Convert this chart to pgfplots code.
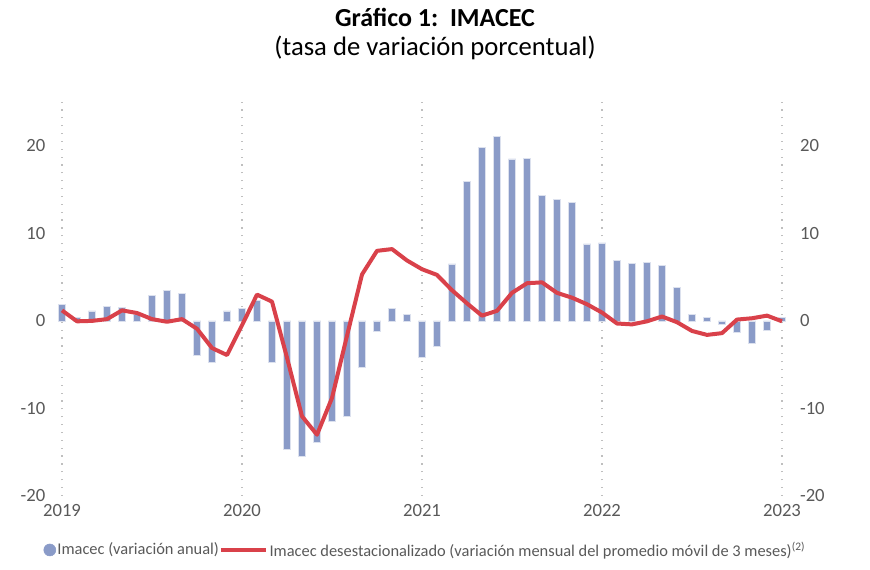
\documentclass[border=0pt]{standalone}
\usepackage{fontspec}
\setmainfont{Carlito}
\usepackage{pgfplots}
\pgfplotsset{compat=1.18}
\definecolor{barcol}{HTML}{8A9BC8}
\definecolor{linecol}{HTML}{D9414A}
\definecolor{txt}{HTML}{595959}
\definecolor{gridc}{HTML}{BFBFBF}
\begin{document}
\begin{tikzpicture}
\path[use as bounding box] (0,0) rectangle (652.5pt,427.5pt);
\node[font=\bfseries\fontsize{19.5}{22}\selectfont, text=black] at (326.25pt,414.5pt) {Gráfico 1:\ \ IMACEC};
\node[font=\fontsize{20}{23}\selectfont, text=black] at (326.25pt,391.5pt) {(tasa de variación porcentual)};
\begin{axis}[
  at={(46.5pt,55.5pt)}, anchor=south west,
  scale only axis, width=540pt, height=295.5pt,
  xmin=0, xmax=48, ymin=-20, ymax=25,
  axis line style={draw=none},
  clip=false,
  xtick={0,12,24,36,48},
  xticklabels={2019,2020,2021,2022,2023},
  ytick={-20,-10,0,10,20},
  yticklabel style={/pgf/number format/assume math mode=true},
  tick style={draw=none},
  ticklabel style={font=\fontsize{14}{16}\selectfont, text=txt},
  xticklabel style={yshift=-3pt},
  yticklabel style={xshift=-9pt},
  xmajorgrids, grid style={gridc, dash pattern=on 0.9pt off 5pt, line width=0.9pt},
  legend style={at={(-0.026,-0.137)}, anchor=west, draw=none, fill=none,
    font=\fontsize{12.3}{14}\selectfont, text=txt, legend columns=2,
    inner xsep=0pt,
    nodes={inner xsep=1pt},
    /tikz/every even column/.append style={column sep=-1pt}},
  legend cell align=left,
]
\addplot[ybar, bar width=0.5, fill=barcol, draw=white!70!barcol, line width=0.4pt,
  legend image code/.code={\fill[barcol] (0.2cm,0) circle (4.5pt);}]
 table[x=x,y=y] {
x y
0 1.9
1 0.4
2 1.15
3 1.7
4 1.55
5 0.7
6 2.9
7 3.5
8 3.15
9 -3.95
10 -4.75
11 1.15
12 1.4
13 2.3
14 -4.75
15 -14.7
16 -15.5
17 -13.9
18 -11.5
19 -10.9
20 -5.3
21 -1.15
22 1.4
23 0.7
24 -4.1
25 -2.9
26 6.5
27 15.9
28 19.8
29 21.1
30 18.5
31 18.6
32 14.35
33 13.9
34 13.5
35 8.8
36 8.9
37 6.9
38 6.6
39 6.7
40 6.35
41 3.85
42 0.7
43 0.4
44 -0.4
45 -1.3
46 -2.6
47 -1.1
48 0.4
};
\addlegendentry{Imacec (variación anual)}
\addplot[linecol, line width=3pt, line join=round, mark=none,
  legend image code/.code={\draw[linecol, line width=3pt] (0,0) -- (34pt,0);}]
 table[x=x,y=y] {
x y
0 1.2
1 -0.05
2 0.0
3 0.2
4 1.2
5 0.9
6 0.2
7 -0.1
8 0.2
9 -0.9
10 -3.1
11 -3.9
12 -0.5
13 3.0
14 2.2
15 -4.2
16 -10.9
17 -13.0
18 -8.8
19 -1.7
20 5.3
21 8.0
22 8.2
23 6.9
24 5.9
25 5.25
26 3.5
27 2.0
28 0.6
29 1.15
30 3.2
31 4.3
32 4.4
33 3.2
34 2.65
35 1.9
36 0.95
37 -0.3
38 -0.4
39 -0.05
40 0.5
41 -0.15
42 -1.15
43 -1.6
44 -1.4
45 0.15
46 0.3
47 0.6
48 -0.05
};
\addlegendentry{Imacec desestacionalizado (variación mensual del promedio móvil de 3 meses)\textsuperscript{(2)}}
\end{axis}
\begin{axis}[
  at={(46.5pt,55.5pt)}, anchor=south west,
  scale only axis, width=540pt, height=295.5pt,
  xmin=0, xmax=48, ymin=-20, ymax=25,
  axis line style={draw=none},
  axis y line*=right, axis x line=none,
  ytick={-20,-10,0,10,20},
  yticklabel style={/pgf/number format/assume math mode=true, xshift=10pt},
  tick style={draw=none},
  ticklabel style={font=\fontsize{14}{16}\selectfont, text=txt},
]
\addplot[draw=none] coordinates {(0,0)};
\end{axis}
\end{tikzpicture}
\end{document}
